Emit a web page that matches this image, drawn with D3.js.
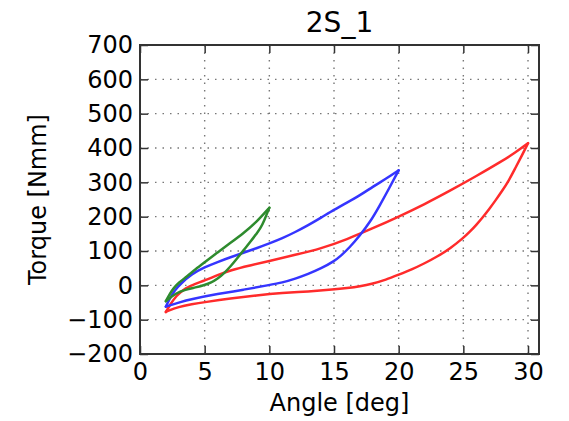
<!DOCTYPE html>
<html lang="en">
    <head>
        <meta charset="utf-8">
        <title>2S_1</title>
        <script src="https://d3js.org/d3.v7.min.js"></script>
    </head>
<style>
body {
    margin: 0;
    background: #fff;
}
text {
    font-family: "DejaVu Sans", sans-serif;
}
.grid line {
    stroke: #777;
    stroke-width: 1.4;
    stroke-dasharray: 1.5, 6;
}
.tick line {
    stroke: #333;
    stroke-width: 1.5;
}
.curve {
    fill: none;
    stroke-width: 2.5;
    stroke-linejoin: round;
    stroke-linecap: round;
}
</style>
    <body>
        <script type="text/javascript">

// tick values
var xTicks = [0, 5, 10, 15, 20, 25, 30];
var yTicks = [-200, -100, 0, 100, 200, 300, 400, 500, 600, 700];

// red loop (2 -> 30 deg), loading and unloading branch
var redLoadAngle = [2.0, 2.3, 2.8, 3.5, 4.3, 5.0, 6.0, 7.0, 8.5, 10, 12, 14, 16, 18, 20, 22, 24, 26, 28, 29, 30];
var redLoadTorque = [-78, -58, -30, -8, 5, 14, 30, 44, 58, 71, 89, 107, 134, 166, 200, 236, 276, 318, 362, 386, 414];
var redUnloadAngle = [30, 29.5, 29, 28.5, 28, 27.5, 27, 26.5, 26, 25.5, 25, 24, 23, 22, 21, 20, 19, 18, 17, 16, 15, 13, 11, 9, 7, 5, 4, 3, 2.0];
var redUnloadTorque = [414, 376, 340, 304, 275, 248, 222, 198, 176, 156, 138, 108, 84, 64, 46, 31, 16, 5, -3, -8, -12, -18, -22, -29, -38, -49, -55, -62, -77];

// blue loop (2 -> 20 deg)
var blueLoadAngle = [2.0, 2.3, 2.7, 3.1, 4.0, 5.0, 6.0, 7.0, 8.0, 9.0, 10, 11, 12, 13, 14, 15, 16, 17, 18, 19, 20];
var blueLoadTorque = [-62, -38, -14, 3, 33, 53, 68, 82, 95, 108, 122, 137, 155, 175, 197, 220, 241, 262, 287, 310, 335];
var blueUnloadAngle = [20, 19.3, 18.5, 17.8, 17, 16.2, 15.5, 15, 14, 13, 12, 11, 10, 8, 6, 4, 3, 2.0];
var blueUnloadTorque = [335, 285, 230, 185, 145, 110, 85, 70, 49, 33, 19, 8, 1, -13, -25, -40, -50, -62];

// green loop (2 -> 10 deg)
var greenLoadAngle = [2.0, 2.3, 2.6, 3.0, 3.6, 4.3, 5.0, 6.0, 7.0, 8.0, 9.0, 10];
var greenLoadTorque = [-46, -25, -8, 8, 25, 47, 67, 96, 124, 152, 184, 226];
var greenUnloadAngle = [10, 9.6, 9.3, 9.0, 8.5, 8.0, 7.5, 7.0, 6.5, 6.0, 5.5, 5.0, 4.3, 3.5, 2.8, 2.0];
var greenUnloadTorque = [226, 188, 165, 150, 125, 102, 78, 55, 35, 19, 8, 1, -6, -13, -22, -46];

var loops = [
    {color: "#ff2b2b", branches: [[redLoadAngle, redLoadTorque], [redUnloadAngle, redUnloadTorque]]},
    {color: "#3535ff", branches: [[blueLoadAngle, blueLoadTorque], [blueUnloadAngle, blueUnloadTorque]]},
    {color: "#2e8b2e", branches: [[greenLoadAngle, greenLoadTorque], [greenUnloadAngle, greenUnloadTorque]]}
];

//Setting the margin
var margin = {top: 45, right: 30, bottom: 67, left: 140},
    width = 569 - margin.left - margin.right,
    height = 421 - margin.top - margin.bottom;

var x = d3.scaleLinear()
    .domain([0, 30.85])
    .range([0, width]);

var y = d3.scaleLinear()
    .domain([-200, 700])
    .range([height, 0]);

var chart = d3.select('body')
    .append('svg')
    .attr('width', 569)
    .attr('height', 421);

var main = chart.append('g')
    .attr('transform', 'translate(' + margin.left + ',' + margin.top + ')');

// dotted grid
main.append("g")
    .attr("class", "grid")
    .selectAll("line")
    .data(xTicks.slice(1))
    .enter().append("line")
    .attr("x1", function (d) { return x(d); })
    .attr("x2", function (d) { return x(d); })
    .attr("y1", 0)
    .attr("y2", height);

main.append("g")
    .attr("class", "grid")
    .selectAll("line")
    .data(yTicks.slice(1, -1))
    .enter().append("line")
    .attr("y1", function (d) { return y(d); })
    .attr("y2", function (d) { return y(d); })
    .attr("x1", 0)
    .attr("x2", width);

// curves, one path per branch so the turning point stays sharp
var line = d3.line()
    .x(function (d) { return x(d[0]); })
    .y(function (d) { return y(d[1]); })
    .curve(d3.curveBasis);

loops.forEach(function (loop) {
    loop.branches.forEach(function (b) {
        var pts = b[0].map(function (a, i) { return [a, b[1][i]]; });
        main.append("path")
            .attr("class", "curve")
            .attr("stroke", loop.color)
            .attr("d", line(pts));
    });
});

// axes, ticks pointing inward on all four sides
var fontSize = "24px";

var gx = main.append("g")
    .attr("transform", "translate(0," + height + ")")
    .call(d3.axisBottom(x).tickValues(xTicks).tickSize(-8).tickPadding(9));
gx.selectAll("text").style("font-size", fontSize).attr("fill", "#000");

var gy = main.append("g")
    .call(d3.axisLeft(y).tickValues(yTicks).tickSize(-8).tickPadding(7));
gy.selectAll("text").style("font-size", fontSize).attr("fill", "#000");

main.append("g")
    .call(d3.axisTop(x).tickValues(xTicks).tickSize(-8).tickFormat(""));
main.append("g")
    .attr("transform", "translate(" + width + ",0)")
    .call(d3.axisRight(y).tickValues(yTicks).tickSize(-8).tickFormat(""));

main.selectAll(".domain").remove();

main.append("rect")
    .attr("width", width)
    .attr("height", height)
    .attr("fill", "none")
    .attr("stroke", "#333")
    .attr("stroke-width", 2);

// labels
main.append("text")
    .attr("x", width / 2)
    .attr("y", -13)
    .style("text-anchor", "middle")
    .style("font-size", "28px")
    .text("2S_1");

main.append("text")
    .attr("x", width / 2)
    .attr("y", height + 57)
    .style("text-anchor", "middle")
    .style("font-size", fontSize)
    .text("Angle [deg]");

main.append("text")
    .attr("transform", "rotate(-90)")
    .attr("x", -height / 2)
    .attr("y", -94)
    .style("text-anchor", "middle")
    .style("font-size", fontSize)
    .text("Torque [Nmm]");

        </script>
    </body>
</html>
